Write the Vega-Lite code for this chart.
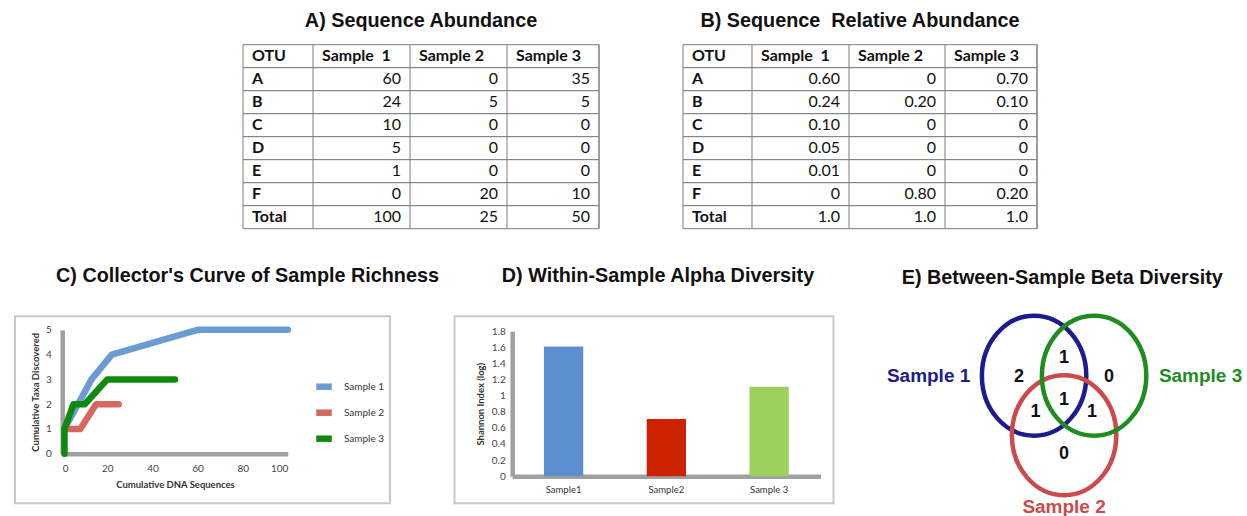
{
  "$schema": "https://vega.github.io/schema/vega-lite/v6.json",
  "padding": {"left": 14, "top": 10.7, "right": 0, "bottom": 0},
  "background": "white",
  "config": {
    "view": {"stroke": null},
    "font": "Liberation Sans",
    "title": {"font": "Liberation Sans", "fontSize": 19.8, "fontWeight": "bold", "color": "#111111", "anchor": "middle", "baseline": "alphabetic"}
  },
  "datasets": {
    "tables": [
      {"tbl": "A", "row": "OTU", "s1": "Sample \u00a01", "s2": "Sample 2", "s3": "Sample 3"},
      {"tbl": "A", "row": "A", "s1": "60", "s2": "0", "s3": "35"},
      {"tbl": "A", "row": "B", "s1": "24", "s2": "5", "s3": "5"},
      {"tbl": "A", "row": "C", "s1": "10", "s2": "0", "s3": "0"},
      {"tbl": "A", "row": "D", "s1": "5", "s2": "0", "s3": "0"},
      {"tbl": "A", "row": "E", "s1": "1", "s2": "0", "s3": "0"},
      {"tbl": "A", "row": "F", "s1": "0", "s2": "20", "s3": "10"},
      {"tbl": "A", "row": "Total", "s1": "100", "s2": "25", "s3": "50"},
      {"tbl": "B", "row": "OTU", "s1": "Sample \u00a01", "s2": "Sample 2", "s3": "Sample 3"},
      {"tbl": "B", "row": "A", "s1": "0.60", "s2": "0", "s3": "0.70"},
      {"tbl": "B", "row": "B", "s1": "0.24", "s2": "0.20", "s3": "0.10"},
      {"tbl": "B", "row": "C", "s1": "0.10", "s2": "0", "s3": "0"},
      {"tbl": "B", "row": "D", "s1": "0.05", "s2": "0", "s3": "0"},
      {"tbl": "B", "row": "E", "s1": "0.01", "s2": "0", "s3": "0"},
      {"tbl": "B", "row": "F", "s1": "0", "s2": "0.80", "s3": "0.20"},
      {"tbl": "B", "row": "Total", "s1": "1.0", "s2": "1.0", "s3": "1.0"}
    ],
    "cols": [
      {"key": "row", "c": 1},
      {"key": "s1", "c": 2},
      {"key": "s2", "c": 3},
      {"key": "s3", "c": 4}
    ],
    "curve": [
      {"sample": "Sample 1", "i": 0, "seqs": 1, "taxa": 1},
      {"sample": "Sample 1", "i": 1, "seqs": 13, "taxa": 3},
      {"sample": "Sample 1", "i": 2, "seqs": 22, "taxa": 4},
      {"sample": "Sample 1", "i": 3, "seqs": 60, "taxa": 5},
      {"sample": "Sample 1", "i": 4, "seqs": 100, "taxa": 5},
      {"sample": "Sample 2", "i": 0, "seqs": 1, "taxa": 1},
      {"sample": "Sample 2", "i": 1, "seqs": 8, "taxa": 1},
      {"sample": "Sample 2", "i": 2, "seqs": 15, "taxa": 2},
      {"sample": "Sample 2", "i": 3, "seqs": 25, "taxa": 2},
      {"sample": "Sample 3", "i": 0, "seqs": 1, "taxa": 0},
      {"sample": "Sample 3", "i": 1, "seqs": 1, "taxa": 1},
      {"sample": "Sample 3", "i": 2, "seqs": 5, "taxa": 2},
      {"sample": "Sample 3", "i": 3, "seqs": 10, "taxa": 2},
      {"sample": "Sample 3", "i": 4, "seqs": 20, "taxa": 3},
      {"sample": "Sample 3", "i": 5, "seqs": 50, "taxa": 3}
    ],
    "alpha": [
      {"sample": "Sample1", "shannon": 1.61},
      {"sample": "Sample2", "shannon": 0.71},
      {"sample": "Sample 3", "shannon": 1.11}
    ],
    "venn_sets": [
      {"sample": "Sample 1", "cx": -0.6, "cy": 0, "lx": -2.71, "ly": 0},
      {"sample": "Sample 2", "cx": 0, "cy": -1.19, "lx": 0, "ly": -2.62},
      {"sample": "Sample 3", "cx": 0.6, "cy": 0, "lx": 2.73, "ly": 0}
    ],
    "venn_counts": [
      {"region": "1 only", "x": -0.9, "y": -0.02, "n": "2"},
      {"region": "1 & 3", "x": 0, "y": 0.36, "n": "1"},
      {"region": "3 only", "x": 0.9, "y": -0.02, "n": "0"},
      {"region": "1 & 2 & 3", "x": 0, "y": -0.49, "n": "1"},
      {"region": "1 & 2", "x": -0.57, "y": -0.72, "n": "1"},
      {"region": "2 & 3", "x": 0.56, "y": -0.72, "n": "1"},
      {"region": "2 only", "x": 0, "y": -1.57, "n": "0"}
    ]
  },
  "vconcat": [
    {
      "hconcat": [
        {"width": 144, "height": 184, "data": {"values": []}, "mark": "point", "encoding": {}},
        {
          "width": 356, "height": 184,
          "title": {"text": "A) Sequence Abundance", "offset": 13},
          "data": {"name": "tables"},
          "transform": [
            {"filter": "datum.tbl === 'A'"},
            {"fold": ["row", "s1", "s2", "s3"], "as": ["key", "txt"]},
            {"lookup": "key", "from": {"data": {"name": "cols"}, "key": "key", "fields": ["c"]}}
          ],
          "resolve": {"scale": {"x": "independent"}},
          "layer": [
            {
              "transform": [{"filter": "datum.c === 1"}],
              "mark": {"type": "rect", "fill": "white", "stroke": "#7a7a7a", "strokeWidth": 1},
              "encoding": {
                "x": {"datum": 0, "type": "quantitative", "scale": {"domain": [0, 1, 2, 3, 4], "range": [0, 70, 167, 264, 356], "nice": false, "zero": false}, "axis": null},
                "x2": {"datum": 4},
                "y": {"field": "row", "type": "nominal", "scale": {"domain": ["OTU", "A", "B", "C", "D", "E", "F", "Total"], "paddingInner": 0, "paddingOuter": 0}, "axis": null}
              }
            },
            {
              "transform": [{"filter": "datum.row === 'OTU'"}],
              "mark": {"type": "rule", "stroke": "#7a7a7a", "strokeWidth": 1},
              "encoding": {
                "x": {"field": "c", "type": "quantitative", "scale": {"domain": [0, 1, 2, 3, 4], "range": [0, 70, 167, 264, 356], "nice": false, "zero": false}, "axis": null}
              }
            },
            {
              "transform": [{"filter": "datum.row === 'OTU' || datum.c === 1"}],
              "mark": {"type": "text", "align": "left", "baseline": "middle", "dx": 9, "font": "Lato", "fontSize": 16, "fontWeight": "bold", "color": "#111111"},
              "encoding": {
                "x": {"field": "c", "type": "quantitative", "scale": {"domain": [1, 2, 3, 4], "range": [0, 70, 167, 264], "nice": false, "zero": false}, "axis": null},
                "y": {"field": "row", "type": "nominal", "scale": {"domain": ["OTU", "A", "B", "C", "D", "E", "F", "Total"], "paddingInner": 0, "paddingOuter": 0}, "axis": null},
                "text": {"field": "txt", "type": "nominal"}
              }
            },
            {
              "transform": [{"filter": "datum.row !== 'OTU' && datum.c !== 1"}],
              "mark": {"type": "text", "align": "right", "baseline": "middle", "dx": -9, "font": "Lato", "fontSize": 16, "color": "#111111"},
              "encoding": {
                "x": {"field": "c", "type": "quantitative", "scale": {"domain": [0, 1, 2, 3, 4], "range": [0, 70, 167, 264, 356], "nice": false, "zero": false}, "axis": null},
                "y": {"field": "row", "type": "nominal", "scale": {"domain": ["OTU", "A", "B", "C", "D", "E", "F", "Total"], "paddingInner": 0, "paddingOuter": 0}, "axis": null},
                "text": {"field": "txt", "type": "nominal"}
              }
            }
          ]
        },
        {
          "width": 354, "height": 184,
          "title": {"text": "B) Sequence \u00a0Relative Abundance", "offset": 13},
          "data": {"name": "tables"},
          "transform": [
            {"filter": "datum.tbl === 'B'"},
            {"fold": ["row", "s1", "s2", "s3"], "as": ["key", "txt"]},
            {"lookup": "key", "from": {"data": {"name": "cols"}, "key": "key", "fields": ["c"]}}
          ],
          "resolve": {"scale": {"x": "independent"}},
          "layer": [
            {
              "transform": [{"filter": "datum.c === 1"}],
              "mark": {"type": "rect", "fill": "white", "stroke": "#7a7a7a", "strokeWidth": 1},
              "encoding": {
                "x": {"datum": 0, "type": "quantitative", "scale": {"domain": [0, 1, 2, 3, 4], "range": [0, 69, 166, 262, 354], "nice": false, "zero": false}, "axis": null},
                "x2": {"datum": 4},
                "y": {"field": "row", "type": "nominal", "scale": {"domain": ["OTU", "A", "B", "C", "D", "E", "F", "Total"], "paddingInner": 0, "paddingOuter": 0}, "axis": null}
              }
            },
            {
              "transform": [{"filter": "datum.row === 'OTU'"}],
              "mark": {"type": "rule", "stroke": "#7a7a7a", "strokeWidth": 1},
              "encoding": {
                "x": {"field": "c", "type": "quantitative", "scale": {"domain": [0, 1, 2, 3, 4], "range": [0, 69, 166, 262, 354], "nice": false, "zero": false}, "axis": null}
              }
            },
            {
              "transform": [{"filter": "datum.row === 'OTU' || datum.c === 1"}],
              "mark": {"type": "text", "align": "left", "baseline": "middle", "dx": 9, "font": "Lato", "fontSize": 16, "fontWeight": "bold", "color": "#111111"},
              "encoding": {
                "x": {"field": "c", "type": "quantitative", "scale": {"domain": [1, 2, 3, 4], "range": [0, 69, 166, 262], "nice": false, "zero": false}, "axis": null},
                "y": {"field": "row", "type": "nominal", "scale": {"domain": ["OTU", "A", "B", "C", "D", "E", "F", "Total"], "paddingInner": 0, "paddingOuter": 0}, "axis": null},
                "text": {"field": "txt", "type": "nominal"}
              }
            },
            {
              "transform": [{"filter": "datum.row !== 'OTU' && datum.c !== 1"}],
              "mark": {"type": "text", "align": "right", "baseline": "middle", "dx": -9, "font": "Lato", "fontSize": 16, "color": "#111111"},
              "encoding": {
                "x": {"field": "c", "type": "quantitative", "scale": {"domain": [0, 1, 2, 3, 4], "range": [0, 69, 166, 262, 354], "nice": false, "zero": false}, "axis": null},
                "y": {"field": "row", "type": "nominal", "scale": {"domain": ["OTU", "A", "B", "C", "D", "E", "F", "Total"], "paddingInner": 0, "paddingOuter": 0}, "axis": null},
                "text": {"field": "txt", "type": "nominal"}
              }
            }
          ]
        }
      ],
      "spacing": 84,
      "bounds": "flush"
    },
    {
      "hconcat": [
        {
          "width": 375, "height": 187,
          "view": {"stroke": "#c8c8c8", "strokeWidth": 2},
          "title": {"text": "C) Collector's Curve of Sample Richness", "offset": 30, "dx": 45},
          "data": {"name": "curve"},
          "mark": {"type": "line", "strokeWidth": 6.5, "strokeCap": "round", "strokeJoin": "round"},
          "encoding": {
            "x": {
              "field": "seqs", "type": "quantitative",
              "scale": {"domain": [0, 100], "range": [47.2, 272.8], "nice": false, "zero": false},
              "axis": {"title": "Cumulative DNA Sequences", "values": [0, 20, 40, 60, 80, 100], "grid": false, "ticks": false, "offset": -49.4, "domainColor": "#a0a0a0", "domainWidth": 4.5, "labelFont": "Lato", "labelFontSize": 10, "labelColor": "#444444", "labelPadding": 10, "titleFont": "Lato", "titleFontSize": 9.5, "titleFontWeight": "bold", "titleColor": "#333333", "titlePadding": 6}
            },
            "y": {
              "field": "taxa", "type": "quantitative",
              "scale": {"domain": [0, 5], "range": [137.6, 13.6], "nice": false, "zero": false},
              "axis": {"title": "Cumulative Taxa Discovered", "values": [0, 1, 2, 3, 4, 5], "grid": false, "ticks": false, "offset": -47.2, "domainColor": "#a0a0a0", "domainWidth": 4.5, "labelFont": "Lato", "labelFontSize": 10, "labelColor": "#444444", "labelPadding": 11, "titleFont": "Lato", "titleFontSize": 9.5, "titleFontWeight": "bold", "titleColor": "#333333", "titlePadding": 5}
            },
            "color": {
              "field": "sample", "type": "nominal",
              "scale": {"domain": ["Sample 1", "Sample 2", "Sample 3"], "range": ["#6a9bd3", "#d4675f", "#0f8a10"]},
              "legend": {"orient": "none", "legendX": 298, "legendY": 59.5, "title": null, "symbolType": "stroke", "symbolStrokeWidth": 6.5, "symbolSize": 240, "labelOffset": 9, "labelFont": "Lato", "labelFontSize": 10, "labelColor": "#333333", "rowPadding": 0}
            },
            "order": {"field": "i", "type": "quantitative"}
          }
        },
        {
          "width": 379, "height": 187,
          "view": {"stroke": "#c8c8c8", "strokeWidth": 2},
          "title": {"text": "D) Within-Sample Alpha Diversity", "offset": 30, "dx": 14},
          "data": {"name": "alpha"},
          "mark": {"type": "bar"},
          "encoding": {
            "x": {
              "field": "sample", "type": "nominal", "sort": null,
              "scale": {"range": [57.7, 366], "paddingInner": 0.618, "paddingOuter": 0.309},
              "axis": {"title": null, "labelAngle": 0, "ticks": false, "offset": -27, "domainColor": "#a0a0a0", "domainWidth": 4.5, "labelFont": "Lato", "labelFontSize": 9.5, "labelColor": "#333333", "labelPadding": 8}
            },
            "y": {
              "field": "shannon", "type": "quantitative",
              "scale": {"domain": [0, 1.8], "range": [160, 15], "nice": false},
              "axis": {"title": "Shannon Index (log)", "values": [0, 0.2, 0.4, 0.6, 0.8, 1, 1.2, 1.4, 1.6, 1.8], "format": "~f", "grid": false, "ticks": false, "offset": -57.7, "domainColor": "#a0a0a0", "domainWidth": 4.5, "labelFont": "Lato", "labelFontSize": 10, "labelColor": "#444444", "labelPadding": 7, "titleFont": "Lato", "titleFontSize": 9.5, "titleFontWeight": "bold", "titleColor": "#333333", "titlePadding": 6}
            },
            "color": {
              "field": "sample", "type": "nominal",
              "scale": {"domain": ["Sample1", "Sample2", "Sample 3"], "range": ["#5b8fd0", "#cc2200", "#9ccf5c"]},
              "legend": null
            }
          }
        },
        {
          "width": 349.5, "height": 187,
          "title": {"text": "E) Between-Sample Beta Diversity", "offset": 19.3, "dx": -10.5},
          "layer": [
            {
              "data": {"name": "venn_sets"},
              "mark": {"type": "point", "shape": "M-0.87,0A0.87,1,0,1,1,0.87,0A0.87,1,0,1,1,-0.87,0Z", "filled": false, "size": 14400, "strokeWidth": 4.5, "opacity": 1},
              "encoding": {
                "x": {"field": "cx", "type": "quantitative", "scale": {"domain": [-3.322, 3.668], "nice": false, "zero": false}, "axis": null},
                "y": {"field": "cy", "type": "quantitative", "scale": {"domain": [-2.55, 1.19], "nice": false, "zero": false}, "axis": null},
                "color": {"field": "sample", "type": "nominal", "scale": {"domain": ["Sample 1", "Sample 2", "Sample 3"], "range": ["#1c1c8c", "#cc4a4a", "#1f8c1f"]}, "legend": null}
              }
            },
            {
              "data": {"name": "venn_counts"},
              "mark": {"type": "text", "font": "Liberation Sans", "fontSize": 18, "fontWeight": "bold", "color": "#111111", "baseline": "middle"},
              "encoding": {
                "x": {"field": "x", "type": "quantitative", "scale": {"domain": [-3.322, 3.668], "nice": false, "zero": false}, "axis": null},
                "y": {"field": "y", "type": "quantitative", "scale": {"domain": [-2.55, 1.19], "nice": false, "zero": false}, "axis": null},
                "text": {"field": "n", "type": "nominal"}
              }
            },
            {
              "data": {"name": "venn_sets"},
              "mark": {"type": "text", "font": "Liberation Sans", "fontSize": 19, "fontWeight": "bold", "baseline": "middle"},
              "encoding": {
                "x": {"field": "lx", "type": "quantitative", "scale": {"domain": [-3.322, 3.668], "nice": false, "zero": false}, "axis": null},
                "y": {"field": "ly", "type": "quantitative", "scale": {"domain": [-2.55, 1.19], "nice": false, "zero": false}, "axis": null},
                "text": {"field": "sample", "type": "nominal"},
                "color": {"field": "sample", "type": "nominal", "scale": {"domain": ["Sample 1", "Sample 2", "Sample 3"], "range": ["#1c1c8c", "#cc4a4a", "#1f8c1f"]}, "legend": null}
              }
            }
          ]
        }
      ],
      "spacing": 64.5,
      "bounds": "flush",
      "resolve": {"scale": {"color": "independent"}, "legend": {"color": "independent"}}
    }
  ],
  "spacing": 35.5,
  "bounds": "full"
}
